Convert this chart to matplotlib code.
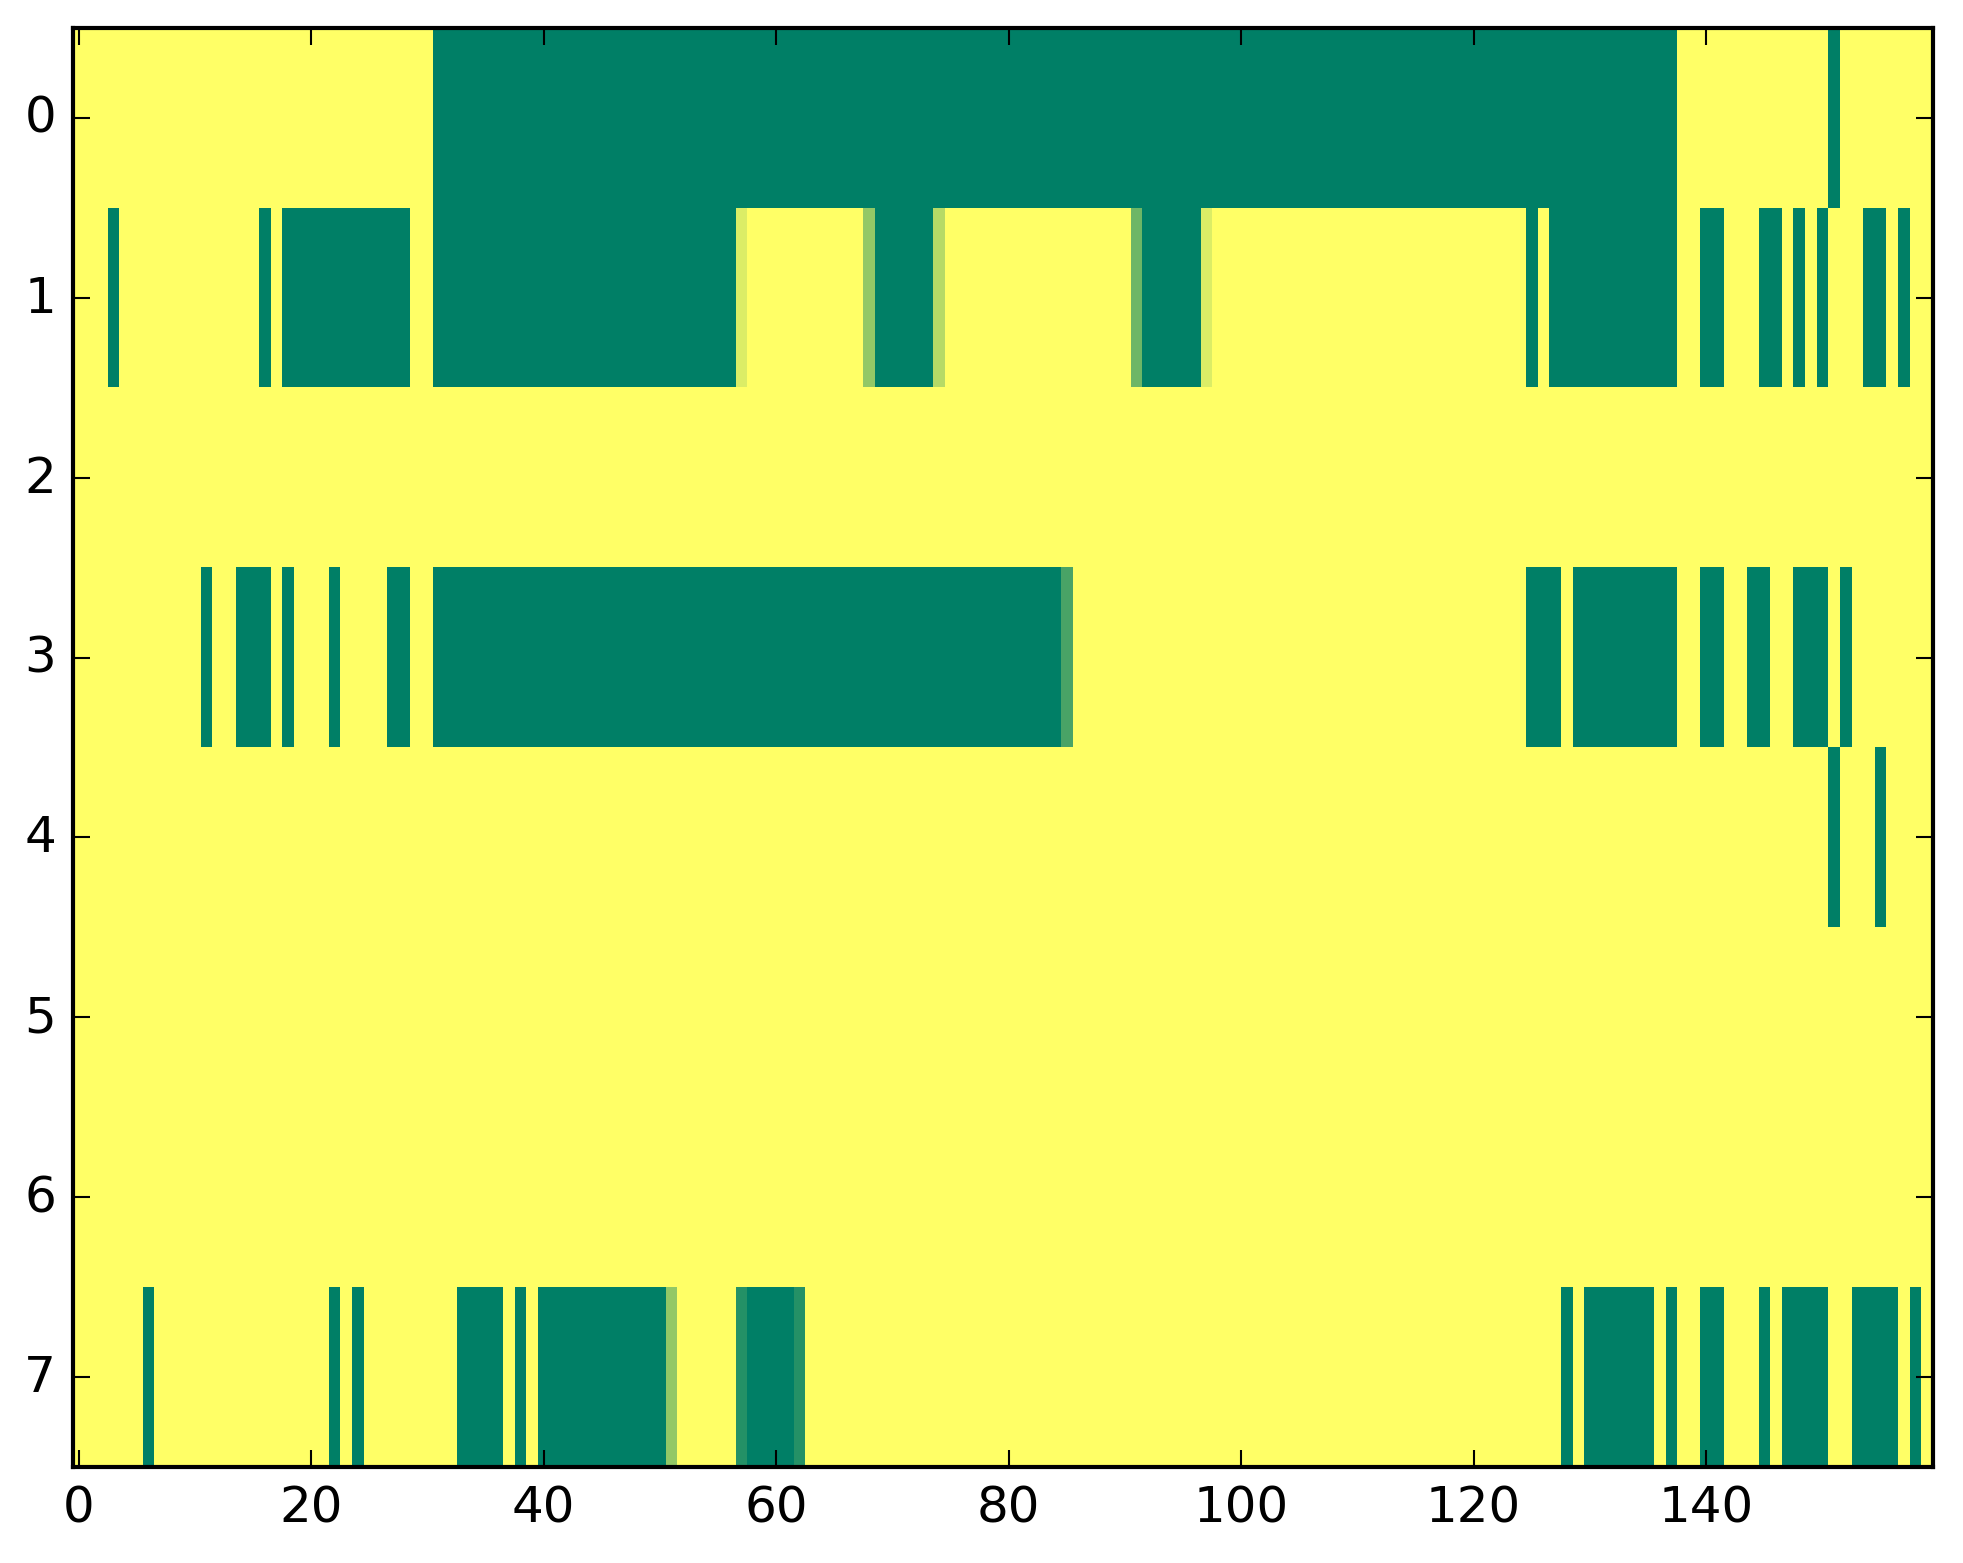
import numpy as np
import matplotlib
matplotlib.use("Agg")
import matplotlib.pyplot as plt

plt.style.use('classic')

n_rows = 8
n_cols = 160

# runs of full value (inclusive column ranges) per row
row0_runs = [(31, 137), (151, 151)]
row1_runs = [(3, 3), (16, 16), (18, 28), (31, 56), (69, 73), (92, 96),
             (125, 125), (127, 137), (140, 141), (145, 146), (148, 148),
             (150, 150), (154, 155), (157, 157)]
row3_runs = [(11, 11), (14, 16), (18, 18), (22, 22), (27, 28), (31, 84),
             (125, 127), (129, 137), (140, 141), (144, 145), (148, 150),
             (152, 152)]
row4_runs = [(151, 151), (155, 155)]
row7_runs = [(6, 6), (22, 22), (24, 24), (33, 36), (38, 38), (40, 50),
             (58, 61), (128, 128), (130, 135), (137, 137), (140, 141),
             (145, 145), (147, 150), (153, 156), (158, 158)]

# partial cells (column: value)
row1_partial = {57: 1/7, 68: 3/7, 74: 2/7, 91: 4/7, 97: 1/7}
row3_partial = {85: 5/7}
row7_partial = {51: 3/7, 57: 6/7, 62: 6/7}

runs = {0: row0_runs, 1: row1_runs, 3: row3_runs, 4: row4_runs, 7: row7_runs}
partials = {1: row1_partial, 3: row3_partial, 7: row7_partial}

grid = np.zeros((n_rows, n_cols))
for r, rr in runs.items():
    for a, b in rr:
        grid[r, a:b + 1] = 1.0
for r, pp in partials.items():
    for c, v in pp.items():
        grid[r, c] = v

fig = plt.figure(figsize=(1963/300, 1564/300), dpi=300)
fig.patch.set_facecolor('white')
ax = fig.add_axes([72.7/1963, 96/1564, 1860/1963, 1439/1564])
ax.imshow(grid, cmap='summer_r', vmin=0, vmax=1, aspect='auto',
          interpolation='nearest')
ax.set_xticks(np.arange(0, 141, 20))
ax.set_yticks(np.arange(0, 8))
ax.tick_params(labelsize=12)

fig.savefig('out.png', dpi=300, facecolor='white')
